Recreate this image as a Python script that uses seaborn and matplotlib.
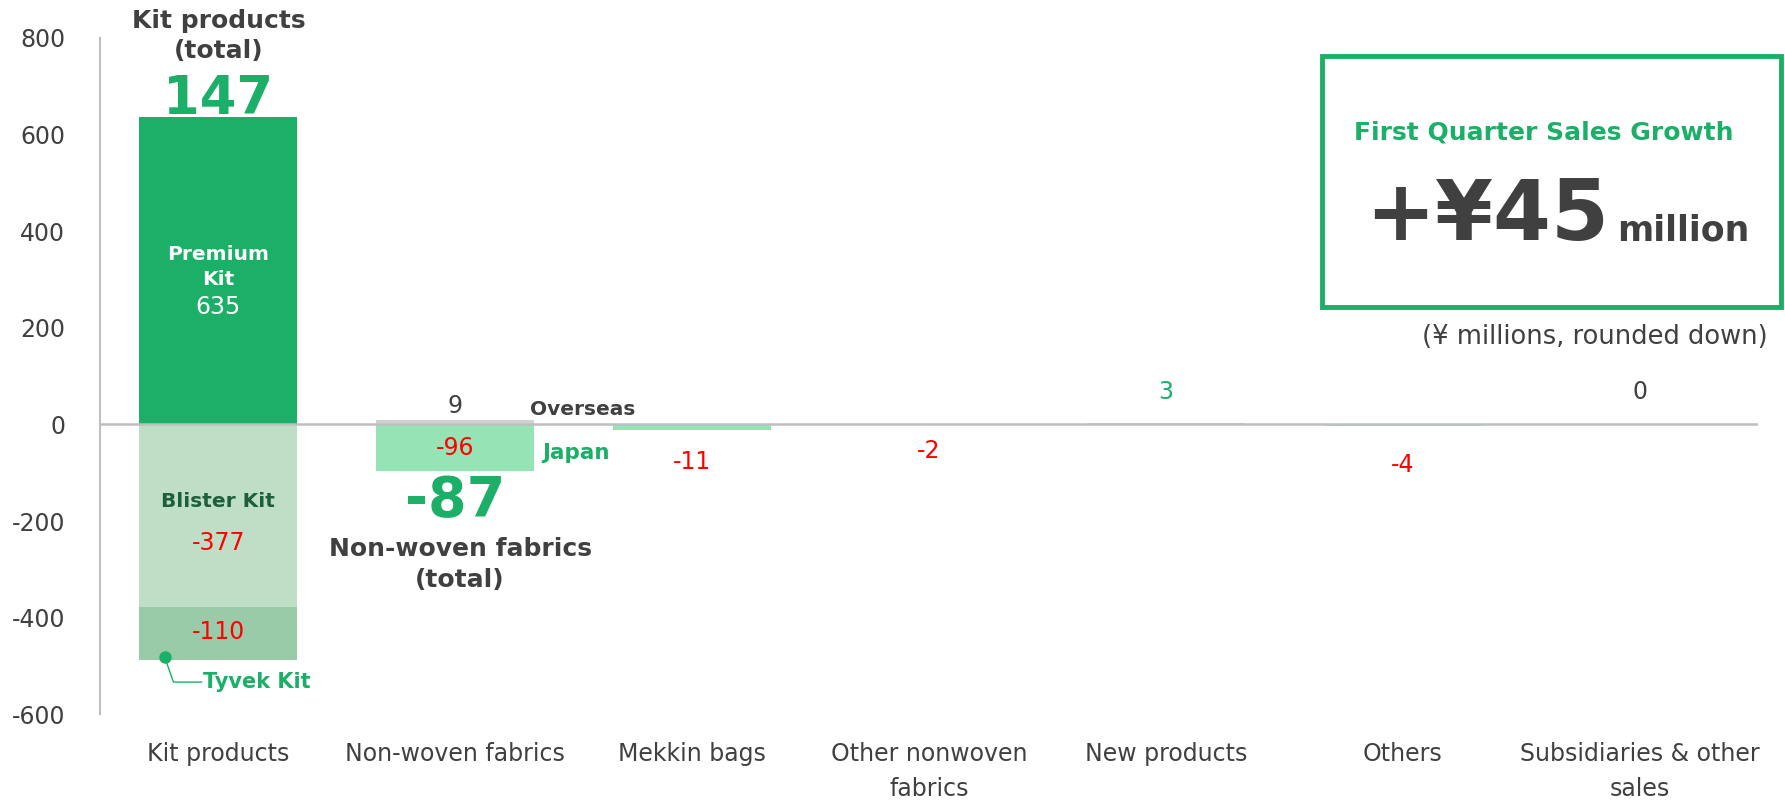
import numpy as np
import pandas as pd
import seaborn as sns
import matplotlib.pyplot as plt
from matplotlib.patches import Rectangle

categories = ["Kit products", "Non-woven fabrics", "Mekkin bags", "Other nonwoven\nfabrics",
              "New products", "Others", "Subsidiaries & other\nsales"]
# positive part of each bar (Premium Kit, Overseas, ...)
pos_part = [635, 9, 0, 0, 3, 0, 0]
# first negative part (Blister Kit, Japan, ...)
neg_part = [-377, -96, -11, -2, 0, -4, 0]
# second negative part, stacked under the first (Tyvek Kit)
neg_part2 = [-110, 0, 0, 0, 0, 0, 0]
totals = [147, -87, -11, -2, 3, -4, 0]
yticks = [-600, -400, -200, 0, 200, 400, 600, 800]

GREEN = "#1BAF68"
DARK = "#404040"
RED = "#FF0000"
LIGHT = "#96E3B5"

sns.set_style("white")
plt.rcParams["font.family"] = ["DejaVu Sans"]
plt.rcParams["axes.unicode_minus"] = False

df = pd.DataFrame({"category": categories, "pos": pos_part, "neg": neg_part, "neg2": neg_part2})
df["neg_total"] = df["neg"] + df["neg2"]

pos_colors = dict(zip(categories, [GREEN, "#D0D0D0", LIGHT, LIGHT, LIGHT, LIGHT, LIGHT]))
neg_colors = dict(zip(categories, ["#BEDEC6", LIGHT, LIGHT, LIGHT, LIGHT, LIGHT, LIGHT]))
neg2_colors = dict(zip(categories, ["#99CBA9"] * 7))

fig = plt.figure(figsize=(17.85, 8.01), dpi=100)
ax = fig.add_axes([0.056, 0.108, 0.929, 0.845])

bw = 0.667
for col, pal in [("pos", pos_colors), ("neg_total", neg2_colors), ("neg", neg_colors)]:
    sns.barplot(data=df, x="category", y=col, hue="category", palette=pal,
                width=bw, legend=False, ax=ax, saturation=1, linewidth=0)

ax.set_xlim(-0.5, 6.5)
ax.set_ylim(-600, 800)
ax.set_yticks(yticks)
ax.set_xlabel("")
ax.set_ylabel("")
ax.axhline(0, color="#BFBFBF", lw=1.8, zorder=1)
for s in ["top", "right", "bottom"]:
    ax.spines[s].set_visible(False)
ax.spines["left"].set_color("#BFBFBF")
ax.spines["left"].set_linewidth(1.5)
ax.tick_params(axis="both", length=0, labelsize=17, colors=DARK)
ax.tick_params(axis="x", pad=20)
ax.tick_params(axis="y", pad=25)
for lab in ax.get_xticklabels():
    lab.set_linespacing(1.55)
    lab.set_verticalalignment("top")

# Kit products annotations
ax.text(0, 803, "Kit products\n(total)", ha="center", va="center", fontsize=18,
        fontweight="bold", color=DARK, linespacing=1.3)
ax.text(0, 674, f"{totals[0]}", ha="center", va="center", fontsize=38,
        fontweight="bold", color=GREEN)
ax.text(0, 326, "Premium\nKit", ha="center", va="center", fontsize=14.5,
        fontweight="bold", color="white", linespacing=1.4)
ax.text(0, 242, f"{pos_part[0]}", ha="center", va="center", fontsize=17, color="white")
ax.text(0, -159, "Blister Kit", ha="center", va="center", fontsize=14.5,
        fontweight="bold", color="#1E5E3B")
ax.text(0, -246, f"{neg_part[0]}", ha="center", va="center", fontsize=17, color=RED)
ax.text(0, -430, f"{neg_part2[0]}", ha="center", va="center", fontsize=17, color=RED)
ax.plot([-0.226], [-482], "o", color=GREEN, ms=8)
ax.plot([-0.226, -0.19, -0.07], [-482, -533, -533], color=GREEN, lw=1)
ax.text(-0.065, -533, "Tyvek Kit", ha="left", va="center", fontsize=15,
        fontweight="bold", color=GREEN)

# Non-woven fabrics annotations
ax.text(1, 39, f"{pos_part[1]}", ha="center", va="center", fontsize=17, color=DARK)
ax.text(1.315, 31, "Overseas", ha="left", va="center", fontsize=14.5,
        fontweight="bold", color=DARK)
ax.text(1, -48, f"{neg_part[1]}", ha="center", va="center", fontsize=17, color=RED)
ax.text(1.366, -60, "Japan", ha="left", va="center", fontsize=15.5,
        fontweight="bold", color=GREEN)
ax.text(1, -159, f"{totals[1]}", ha="center", va="center", fontsize=40,
        fontweight="bold", color=GREEN)
ax.text(1.02, -290, "Non-woven fabrics\n(total)", ha="center", va="center", fontsize=18,
        fontweight="bold", color=DARK, linespacing=1.35)

# small categories
ax.text(2, -77, f"{totals[2]}", ha="center", va="center", fontsize=17, color=RED)
ax.text(3, -54, f"{totals[3]}", ha="center", va="center", fontsize=17, color=RED)
ax.text(4, 68, f"{totals[4]}", ha="center", va="center", fontsize=17, color=GREEN)
ax.text(5, -83, f"{totals[5]}", ha="center", va="center", fontsize=17, color=RED)
ax.text(6, 68, f"{totals[6]}", ha="center", va="center", fontsize=17, color=DARK)

# summary box
fig.patches.append(Rectangle((0.7406, 0.617), 0.257, 0.313, transform=fig.transFigure,
                             fill=False, edgecolor=GREEN, lw=3.5))
fig.text(0.865, 0.835, "First Quarter Sales Growth", ha="center", va="center",
         fontsize=18, fontweight="bold", color=GREEN)
fig.text(0.765, 0.700, "+¥45", ha="left", va="baseline", fontsize=60,
         fontweight="bold", color=DARK)
fig.text(0.906, 0.700, "million", ha="left", va="baseline", fontsize=25,
         fontweight="bold", color=DARK)
fig.text(0.990, 0.579, "(¥ millions, rounded down)", ha="right", va="center",
         fontsize=18.5, color=DARK)

fig.savefig("out.png", dpi=100)
